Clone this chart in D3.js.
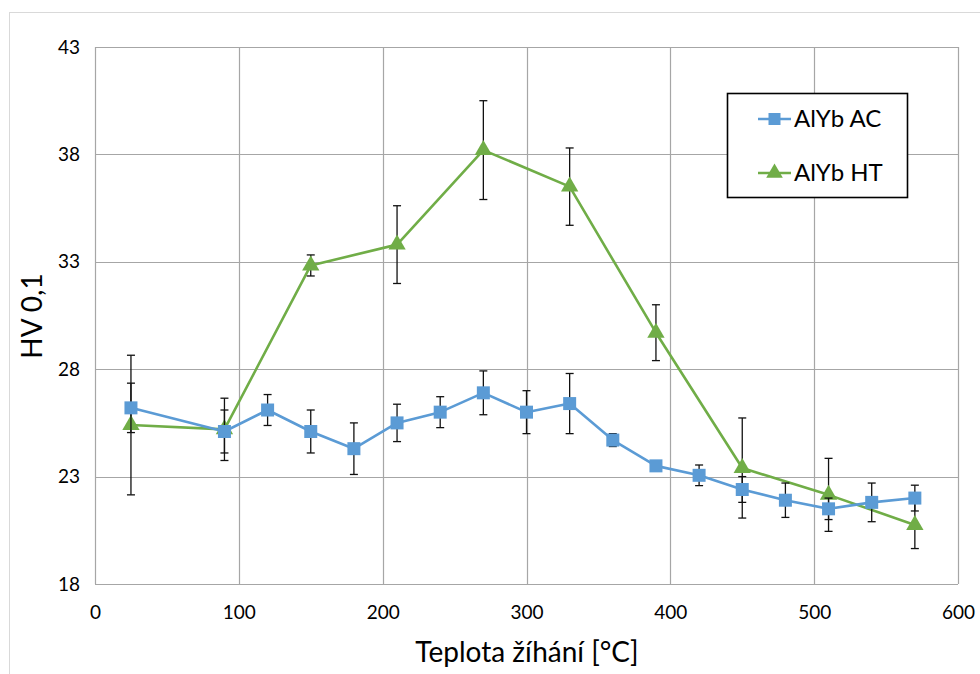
<!DOCTYPE html>
<html>
<head>
<meta charset="utf-8">
<script src="https://cdn.jsdelivr.net/npm/d3@7/dist/d3.min.js"></script>
<style>
  html, body { margin: 0; padding: 0; background: #fff; }
  svg { display: block; font-family: Lato, "Open Sans", sans-serif; }
</style>
</head>
<body>
<svg id="chart" width="980" height="674"></svg>
<script>
// Annealing temperature (°C) and Vickers hardness HV 0.1 with standard deviations
const acTemps  = [25, 90, 120, 150, 180, 210, 240, 270, 300, 330, 360, 390, 420, 450, 480, 510, 540, 570];
const acValues = [26.2, 25.1, 26.1, 25.1, 24.3, 25.5, 26.0, 26.9, 26.0, 26.4, 24.7, 23.5, 23.06, 22.4, 21.9, 21.5, 21.8, 22.0];
const acErrors = [1.15, 1.0, 0.72, 1.0, 1.2, 0.87, 0.72, 1.02, 1.0, 1.4, 0.3, 0.15, 0.48, 0.6, 0.8, 0.5, 0.9, 0.6];

const htTemps  = [25, 90, 150, 210, 270, 330, 390, 450, 510, 570];
const htValues = [25.4, 25.2, 32.83, 33.8, 38.2, 36.5, 29.7, 23.4, 22.15, 20.75];
const htErrors = [3.25, 1.45, 0.49, 1.81, 2.3, 1.8, 1.3, 2.33, 1.7, 1.1];

const xTicks = [0, 100, 200, 300, 400, 500, 600];
const yTicks = [18, 23, 28, 33, 38, 43];

const seriesNames = ["AlYb AC", "AlYb HT"];
const colors = { ac: "#5B9BD5", ht: "#70AD47" };

const svg = d3.select("#chart");
const plot = { left: 95, right: 958, top: 47, bottom: 584 };

const x = d3.scaleLinear().domain([0, 600]).range([plot.left, plot.right]);
const y = d3.scaleLinear().domain([18, 43]).range([plot.bottom, plot.top]);

// Outer chart frame
svg.append("rect")
  .attr("x", 9.5).attr("y", 12.5).attr("width", 975).attr("height", 680)
  .attr("fill", "#fff").attr("stroke", "#D9D9D9").attr("stroke-width", 1);

// Gridlines
const grid = svg.append("g");
grid.selectAll("line.v").data(xTicks).join("line")
  .attr("x1", d => Math.round(x(d)) + 0.5).attr("x2", d => Math.round(x(d)) + 0.5)
  .attr("y1", plot.top).attr("y2", plot.bottom)
  .attr("stroke", "#A6A6A6").attr("stroke-width", 1.2);
grid.selectAll("line.h").data(yTicks).join("line")
  .attr("y1", d => Math.round(y(d)) + 0.5).attr("y2", d => Math.round(y(d)) + 0.5)
  .attr("x1", plot.left).attr("x2", plot.right)
  .attr("stroke", "#A6A6A6").attr("stroke-width", 1.2);

// Axes (labels only, lines come from the grid)
const xAxis = svg.append("g")
  .attr("transform", `translate(0,${plot.bottom})`)
  .call(d3.axisBottom(x).tickValues(xTicks).tickSize(0).tickPadding(22));
xAxis.select(".domain").remove();
xAxis.selectAll("text").attr("font-size", 19).attr("fill", "#000")
  .attr("font-family", "Lato, sans-serif");

const yAxis = svg.append("g")
  .attr("transform", `translate(${plot.left},0)`)
  .call(d3.axisLeft(y).tickValues(yTicks).tickSize(0).tickPadding(15));
yAxis.select(".domain").remove();
yAxis.selectAll("text").attr("font-size", 19).attr("fill", "#000")
  .attr("font-family", "Lato, sans-serif");

// Axis titles
svg.append("text")
  .attr("x", 527).attr("y", 662)
  .attr("text-anchor", "middle").attr("font-size", 28).attr("fill", "#000")
  .text("Teplota žíhání [°C]");
svg.append("text")
  .attr("transform", `translate(42,316) rotate(-90)`)
  .attr("text-anchor", "middle").attr("font-size", 28).attr("fill", "#000")
  .text("HV 0,1");

function drawSeries(temps, values, errors, color, shape) {
  const data = temps.map((t, i) => ({ t, v: values[i], e: errors[i] }));
  const g = svg.append("g");

  const line = d3.line().x(d => x(d.t)).y(d => y(d.v));
  g.append("path").datum(data)
    .attr("d", line).attr("fill", "none")
    .attr("stroke", color).attr("stroke-width", 2.6).attr("stroke-linejoin", "round");

  // Error bars
  const eb = g.append("g");
  eb.selectAll("line.bar").data(data).join("line")
    .attr("x1", d => x(d.t)).attr("x2", d => x(d.t))
    .attr("y1", d => y(d.v + d.e)).attr("y2", d => y(d.v - d.e))
    .attr("stroke", "#111").attr("stroke-width", 1.3);
  [1, -1].forEach(s => {
    eb.selectAll(null).data(data).join("line")
      .attr("x1", d => x(d.t) - 4).attr("x2", d => x(d.t) + 4)
      .attr("y1", d => y(d.v + s * d.e)).attr("y2", d => y(d.v + s * d.e))
      .attr("stroke", "#111").attr("stroke-width", 1.3);
  });

  // Markers
  const sym = d3.symbol().type(shape).size(shape === d3.symbolSquare ? 169 : 130);
  g.selectAll("path.m").data(data).join("path")
    .attr("transform", d => `translate(${x(d.t)},${y(d.v)})`)
    .attr("d", sym).attr("fill", color);
}

drawSeries(htTemps, htValues, htErrors, colors.ht, d3.symbolTriangle);
drawSeries(acTemps, acValues, acErrors, colors.ac, d3.symbolSquare);

// Legend
const legend = svg.append("g");
legend.append("rect")
  .attr("x", 727.5).attr("y", 93.5).attr("width", 180).attr("height", 104)
  .attr("fill", "#fff").attr("stroke", "#000").attr("stroke-width", 1.6);
const legendItems = [
  { name: seriesNames[0], color: colors.ac, shape: d3.symbolSquare, size: 144 },
  { name: seriesNames[1], color: colors.ht, shape: d3.symbolTriangle, size: 120 }
];
legendItems.forEach((it, i) => {
  const cy = 119 + i * 54;
  legend.append("line")
    .attr("x1", 758).attr("x2", 791).attr("y1", cy).attr("y2", cy)
    .attr("stroke", it.color).attr("stroke-width", 2.6);
  legend.append("path")
    .attr("transform", `translate(774.5,${cy})`)
    .attr("d", d3.symbol().type(it.shape).size(it.size)).attr("fill", it.color);
  legend.append("text")
    .attr("x", 794).attr("y", cy + 8)
    .attr("font-size", 24).attr("fill", "#000")
    .text(it.name);
});
</script>
</body>
</html>
